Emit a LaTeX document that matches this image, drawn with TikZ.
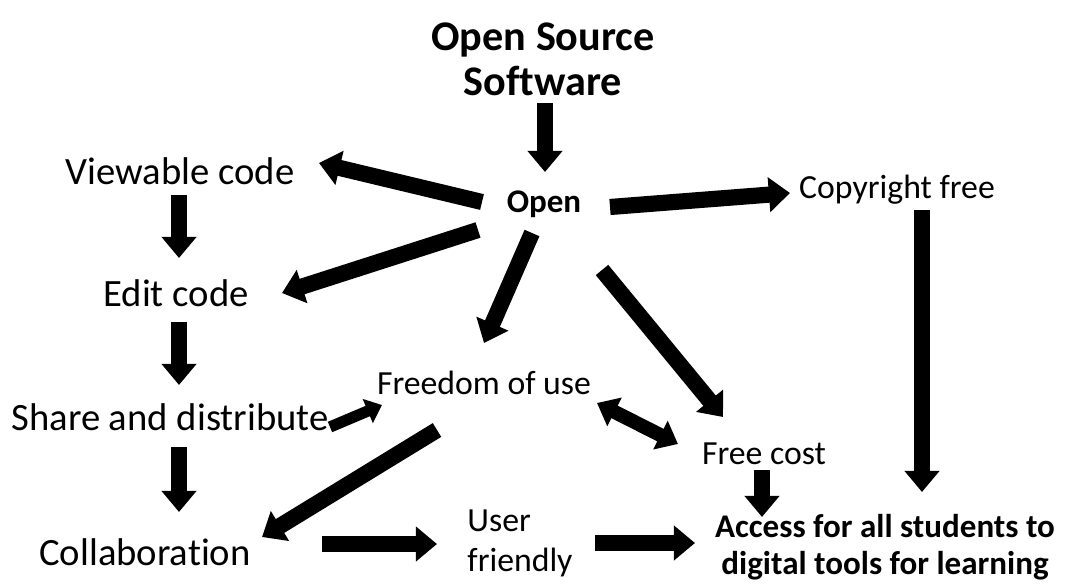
\documentclass[tikz,border=0pt]{standalone}
\usepackage{fontspec}
\setmainfont{Carlito}[Ligatures=NoCommon]
\usepackage{tikz}
\usetikzlibrary{arrows.meta}

\begin{document}
\begin{tikzpicture}[x=0.025cm, y=-0.025cm,
    every node/.style={anchor=base, inner sep=0pt},
    bigtxt/.style={font=\fontsize{27.5}{32}\selectfont},
    midtxt/.style={font=\fontsize{24}{28}\selectfont},
    arr/.style={line width=11.5pt, -{Triangle[length=15pt, width=24pt]}},
    thinarr/.style={line width=8pt, -{Triangle[length=11pt, width=18pt]}}]
  \useasboundingbox (0,0) rectangle (1068,587);
  % texts (base of a two-line node = its last line)
  \node[align=center, font=\fontsize{30}{32}\selectfont\bfseries] (title) at (543,95) {Open Source\\Software};
  \node[font=\fontsize{23.5}{28}\selectfont\bfseries] (open) at (544,212) {Open};
  \node[bigtxt] (view) at (180,184) {Viewable code};
  \node[bigtxt] (edit) at (176,306) {Edit code};
  \node[bigtxt] (share) at (170,430) {Share and distribute};
  \node[bigtxt] (collab) at (145,565) {Collaboration};
  \node[midtxt] (copy) at (897,198) {Copyright free};
  \node[midtxt] (freedom) at (484,394) {Freedom of use};
  \node[midtxt] (freecost) at (764,464) {Free cost};
  \node[align=left, font=\fontsize{24}{28}\selectfont] (user) at (520,571) {User\\friendly};
  \node[align=center, font=\fontsize{23.5}{26}\selectfont\bfseries] (access) at (885,574) {Access for all students to\\digital tools for learning};
  % arrows
  \draw[arr] ([shift={(2,8)}]title.base) -- ([shift={(1,-40)}]open.base);
  \draw[arr] ([shift={(-62,-10)}]open.base) -- ([shift={(139,-21)}]view.base);
  \draw[arr] ([shift={(-66,18)}]open.base) -- ([shift={(106,-13)}]edit.base);
  \draw[arr] ([shift={(-12,21)}]open.base) -- ([shift={(0,-51)}]freedom.base);
  \draw[arr] ([shift={(66,-5)}]open.base) -- ([shift={(-107,-5)}]copy.base);
  \draw[arr] ([shift={(58,58)}]open.base) -- ([shift={(-41,-47)}]freecost.base);
  \draw[line width=10pt, {Triangle[length=14pt, width=22pt]}-{Triangle[length=14pt, width=22pt]}]
    ([shift={(113,9)}]freedom.base) -- ([shift={(-86,-20)}]freecost.base);
  \draw[arr] ([shift={(25,12)}]copy.base) -- ([shift={(37,-82)}]access.base);
  \draw[arr] ([shift={(-2,6)}]freecost.base) -- ([shift={(-123,-57)}]access.base);
  \draw[arr] ([shift={(-1,11)}]view.base) -- ([shift={(3,-48)}]edit.base);
  \draw[arr] ([shift={(3,16)}]edit.base) -- ([shift={(9,-45)}]share.base);
  \draw[arr] ([shift={(9,17)}]share.base) -- ([shift={(34,-53)}]collab.base);
  \draw[thinarr] ([shift={(160,-3)}]share.base) -- ([shift={(-102,11)}]freedom.base);
  \draw[arr] ([shift={(-47,36)}]freedom.base) -- ([shift={(117,-28)}]collab.base);
  \draw[arr] ([shift={(177,-21)}]collab.base) -- ([shift={(-83,-27)}]user.base);
  \draw[arr] ([shift={(75,-28)}]user.base) -- ([shift={(-190,-31)}]access.base);
\end{tikzpicture}
\end{document}
